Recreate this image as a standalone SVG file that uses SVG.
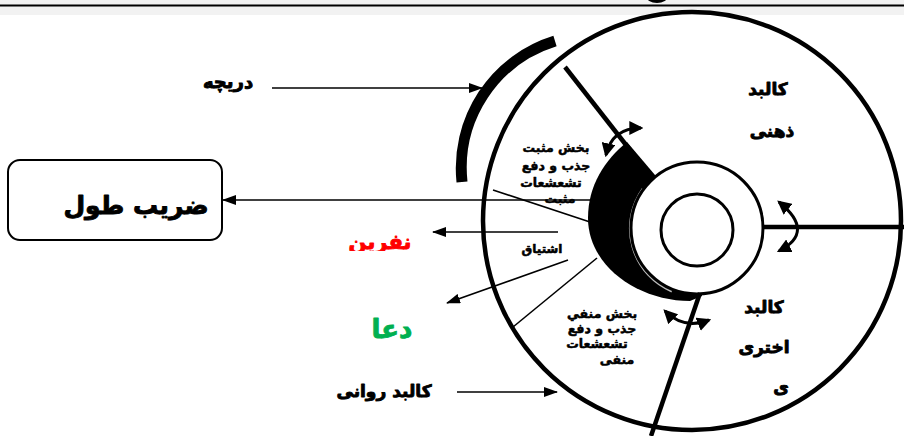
<svg xmlns="http://www.w3.org/2000/svg" width="904" height="436" viewBox="0 0 904 436">
<style>
.t{font-family:"DejaVu Sans","Noto Sans",sans-serif;font-weight:bold;text-anchor:middle;fill:#000;stroke:#000;stroke-width:0.9;stroke-linejoin:round}
.s{stroke-width:0.55}
.thin{stroke:#000;stroke-width:1.6;fill:none}
.thick{stroke:#000;stroke-width:4.5;fill:none}
.curv{stroke:#000;stroke-width:3;fill:none}
</style>
<defs>
<marker id="ah" viewBox="0 0 14 10" refX="13" refY="5" markerWidth="14" markerHeight="10" markerUnits="userSpaceOnUse" orient="auto"><path d="M0,0 L14,5 L0,10 Z" fill="#000"/></marker>
<marker id="ch" viewBox="0 0 12 12" refX="10" refY="6" markerWidth="14" markerHeight="14" markerUnits="userSpaceOnUse" orient="auto-start-reverse"><path d="M0,0 L12,6 L0,12 Z" fill="#000"/></marker>
<clipPath id="clipR"><rect x="300" y="220" width="150" height="31"/></clipPath>
</defs>
<rect x="0" y="0" width="904" height="436" fill="#fff"/>
<rect x="0" y="0" width="904" height="15" fill="#f2f2f2"/>
<line x1="0" y1="5.5" x2="904" y2="5.5" stroke="#000" stroke-width="2"/>
<ellipse cx="657" cy="-4" rx="11" ry="7" fill="#000"/>

<g id="outer-circle">
<circle cx="692" cy="221" r="209" fill="#fff" stroke="#000" stroke-width="4.5"/>
</g>
<g id="window-arc">
<path d="M 462 182 A 133 133 0 0 1 555 41" stroke="#000" stroke-width="11" fill="none"/>
</g>
<g id="crescent">
<path d="M 627 142 L 655 175 L 697 228 L 702 296 L 690 301 C 638 301 588 266 588 218 C 588 185 605 160 627 142 Z" fill="#000"/>
<path d="M 643 189 A 68 68 0 0 0 672 291" fill="none" stroke="#bbb" stroke-width="3"/>
</g>
<g id="ring">
<circle cx="697" cy="228" r="66" fill="#fff" stroke="#000" stroke-width="3"/>
<circle cx="697" cy="230" r="36" fill="#fff" stroke="#000" stroke-width="3"/>
</g>

<g id="connectors">
<line class="thick" x1="565" y1="67" x2="648" y2="173"/>
<line class="thick" x1="763" y1="227" x2="904" y2="227"/>
<line class="thick" x1="700" y1="293" x2="651" y2="436"/>
<line class="thin" x1="493" y1="190" x2="590" y2="222"/>
<line class="thin" x1="513" y1="327" x2="597" y2="258"/>
<line class="thin" x1="590" y1="200" x2="223" y2="200" marker-end="url(#ah)"/>
<line class="thin" x1="558" y1="232" x2="433" y2="232" marker-end="url(#ah)"/>
<line class="thin" x1="568" y1="260" x2="447" y2="303" marker-end="url(#ah)"/>
<line class="thin" x1="457" y1="392" x2="557" y2="392" marker-end="url(#ah)"/>
<line class="thin" x1="272" y1="88" x2="482" y2="88" marker-end="url(#ah)"/>
<path class="curv" d="M 606 155 Q 612 128 641 128" marker-start="url(#ch)" marker-end="url(#ch)"/>
<path class="curv" d="M 779 202 Q 816 232 779 251" marker-start="url(#ch)" marker-end="url(#ch)"/>
<path class="curv" d="M 665 311 Q 684 330 709 320" marker-start="url(#ch)" marker-end="url(#ch)"/>
</g>

<g id="box">
<rect x="8" y="160" width="214" height="80" rx="12" fill="#fff" stroke="#000" stroke-width="2"/>
<text class="t" x="136" y="214" font-size="25">ضریب طول</text>
</g>
<g id="labels">
<text class="t" x="228" y="88" font-size="18">دریچه</text>
<text class="t" x="768" y="95" font-size="17">کالبد</text>
<text class="t" x="772" y="137" font-size="17">ذهنی</text>
<text class="t" x="764" y="313" font-size="17">کالبد</text>
<text class="t" x="764" y="353" font-size="17">اختری</text>
<text class="t" x="781" y="393" font-size="17">ی</text>
<text class="t s" x="556" y="152" font-size="12.5">بخش مثبت</text>
<text class="t s" x="556" y="170" font-size="12.5">جذب و دفع</text>
<text class="t s" x="551" y="187" font-size="12.5">تشعشعات</text>
<text class="t s" x="560" y="203" font-size="12.5">مثبت</text>
<text class="t s" x="542" y="253" font-size="12">اشتیاق</text>
<text class="t s" x="602" y="318" font-size="12.5">بخش منفي</text>
<text class="t s" x="602" y="333" font-size="12.5">جذب و دفع</text>
<text class="t s" x="597" y="348" font-size="12.5">تشعشعات</text>
<text class="t s" x="617" y="364" font-size="12.5">منفی</text>
<text class="t" x="380" y="249" font-size="21" style="fill:#ff0000;stroke:#ff0000" clip-path="url(#clipR)">نفرین</text>
<text class="t" x="392" y="338" font-size="26" style="fill:#00b050;stroke:#00b050">دعا</text>
<text class="t" x="384" y="397" font-size="17">کالبد روانی</text>
</g>
</svg>
